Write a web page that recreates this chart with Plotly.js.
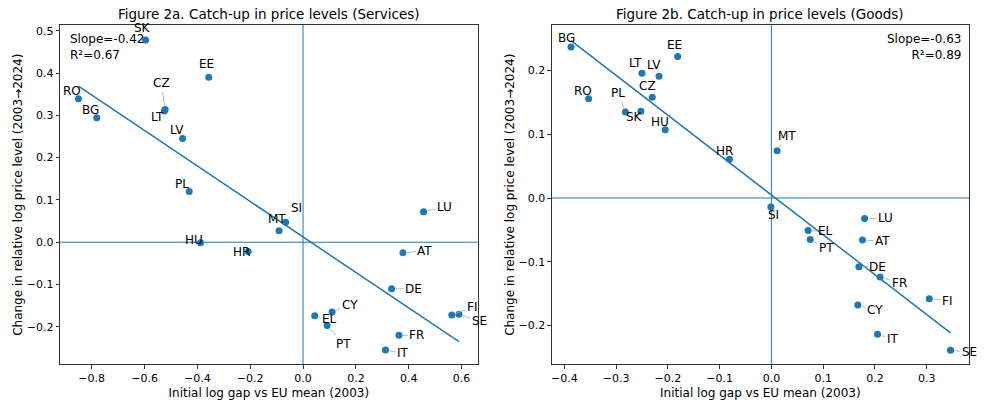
<!DOCTYPE html>
<html>
<head>
<meta charset="utf-8">
<script src="https://cdn.plot.ly/plotly-3.0.1.min.js"></script>
<style>
  html, body { margin: 0; padding: 0; background: #fff; }
  #chart { width: 987px; height: 407px; }
</style>
</head>
<body>
<div id="chart"></div>
<script>
// Figure 2a - services: initial log gap (2003) vs change in relative log price level
const countries2a = ["SK", "EE", "RO", "CZ", "LT", "BG", "LV", "PL", "SI", "MT", "HU",
  "HR", "LU", "AT", "DE", "CY", "EL", "PT", "FI", "SE", "FR", "IT"];
const gap2a = [-0.596, -0.357, -0.850, -0.522, -0.525, -0.781, -0.456, -0.431, -0.066, -0.091, -0.388,
  -0.208, 0.456, 0.378, 0.335, 0.110, 0.044, 0.091, 0.563, 0.590, 0.363, 0.312];
const change2a = [0.478, 0.390, 0.339, 0.314, 0.310, 0.294, 0.245, 0.120, 0.047, 0.027, -0.001,
  -0.022, 0.072, -0.025, -0.110, -0.165, -0.174, -0.197, -0.172, -0.170, -0.220, -0.255];
const stats2a = ["Slope=-0.42", "R²=0.67"];

// Figure 2b - goods
const countries2b = ["BG", "EE", "LT", "LV", "CZ", "RO", "PL", "SK", "HU", "HR", "MT",
  "SI", "LU", "EL", "AT", "PT", "DE", "FR", "FI", "CY", "IT", "SE"];
const gap2b = [-0.387, -0.181, -0.250, -0.217, -0.230, -0.353, -0.282, -0.252, -0.205, -0.081, 0.011,
  -0.001, 0.180, 0.071, 0.176, 0.075, 0.169, 0.210, 0.305, 0.167, 0.205, 0.346];
const change2b = [0.237, 0.222, 0.196, 0.191, 0.158, 0.156, 0.135, 0.136, 0.107, 0.061, 0.074,
  -0.014, -0.032, -0.051, -0.066, -0.065, -0.108, -0.124, -0.158, -0.168, -0.214, -0.239];
const stats2b = ["Slope=-0.63", "R²=0.89"];

// label placement (pixel offset of the text from its point, leader line or not)
const labelPos2a = {
  SK: [-3, -12, 0], EE: [-2, -13, 0], RO: [-6, -8, 0], CZ: [-4, -26, 1], LT: [-7, 6, 0],
  BG: [-6, -8, 0], LV: [-6, -9, 0], PL: [-7, -7, 0], SI: [11, -14, 1], MT: [-2, -12, 0],
  HU: [-7, -3, 0], HR: [-7, 0, 0], LU: [21, -5, 1], AT: [22, -2, 1], DE: [22, 0, 1],
  CY: [18, -7, 1], EL: [15, 3, 1], PT: [16, 18, 1], FI: [20, -8, 1], SE: [21, 7, 1],
  FR: [18, 0, 1], IT: [18, 3, 1]
};
const labelPos2b = {
  BG: [-5, -9, 0], EE: [-3, -12, 0], LT: [-6, -10, 0], LV: [-5, -11, 0], CZ: [-5, -11, 0],
  RO: [-6, -8, 0], PL: [-7, -19, 1], SK: [-6, 6, 0], HU: [-5, -8, 0], HR: [-5, -8, 0],
  MT: [10, -15, 1], SI: [3, 8, 0], LU: [21, 0, 1], EL: [17, 1, 1], AT: [20, 1, 1],
  PT: [16, 9, 1], DE: [19, 0, 1], FR: [19, 6, 1], FI: [18, 2, 1], CY: [17, 5, 1],
  IT: [15, 5, 1], SE: [19, 2, 1]
};

const BLUE = "#1f77b4";
const FONT = "DejaVu Sans, Liberation Sans, sans-serif";

// ordinary least squares fit, drawn between the min and max x
function fitLine(xs, ys) {
  const n = xs.length;
  const mx = xs.reduce((a, b) => a + b, 0) / n;
  const my = ys.reduce((a, b) => a + b, 0) / n;
  let sxy = 0, sxx = 0;
  for (let i = 0; i < n; i++) {
    sxy += (xs[i] - mx) * (ys[i] - my);
    sxx += (xs[i] - mx) * (xs[i] - mx);
  }
  const slope = sxy / sxx;
  const icpt = my - slope * mx;
  const lo = Math.min(...xs), hi = Math.max(...xs);
  return { x: [lo, hi], y: [icpt + slope * lo, icpt + slope * hi] };
}

function pointTrace(xs, ys, xa, ya) {
  return {
    x: xs, y: ys, xaxis: xa, yaxis: ya,
    type: "scatter", mode: "markers",
    marker: { size: 7, color: BLUE },
    hoverinfo: "skip", showlegend: false
  };
}

function lineTrace(xs, ys, xa, ya) {
  const f = fitLine(xs, ys);
  return {
    x: f.x, y: f.y, xaxis: xa, yaxis: ya,
    type: "scatter", mode: "lines",
    line: { color: BLUE, width: 1.5 },
    hoverinfo: "skip", showlegend: false
  };
}

function labelAnnotations(names, xs, ys, pos, xa, ya) {
  return names.map((name, i) => {
    const p = pos[name];
    const a = {
      x: xs[i], y: ys[i], xref: xa, yref: ya,
      text: name,
      font: { family: FONT, size: 12, color: "#000" }
    };
    if (p[2]) {
      Object.assign(a, {
        showarrow: true, ax: p[0], ay: p[1],
        arrowhead: 0, arrowwidth: 0.8, arrowcolor: "#aaaaaa", standoff: 4
      });
    } else {
      Object.assign(a, { showarrow: false, xshift: p[0], yshift: -p[1] });
    }
    return a;
  });
}

function axisStyle(extra) {
  return Object.assign({
    showgrid: false, zeroline: false,
    showline: true, mirror: true, linecolor: "#000", linewidth: 0.8,
    ticks: "outside", ticklen: 3.5, tickwidth: 0.8, tickcolor: "#000",
    tickfont: { family: FONT, size: 11, color: "#000" },
    tickformat: ".1f"
  }, extra);
}

const data = [
  lineTrace(gap2a, change2a, "x", "y"),
  pointTrace(gap2a, change2a, "x", "y"),
  lineTrace(gap2b, change2b, "x2", "y2"),
  pointTrace(gap2b, change2b, "x2", "y2")
];

const xTitle = { text: "Initial log gap vs EU mean (2003)", font: { family: FONT, size: 12, color: "#000" }, standoff: 4 };
const yTitle = { text: "Change in relative log price level (2003→2024)", font: { family: FONT, size: 12, color: "#000" }, standoff: 1 };

const dom1 = [60 / 987, 477.7 / 987];
const dom2 = [551.7 / 987, 969 / 987];
const domY = [1 - 364.5 / 407, 1 - 25 / 407];

const refLine = { color: BLUE, width: 1 };
const shapes = [
  { type: "line", xref: "x", yref: "y domain", x0: 0, x1: 0, y0: 0, y1: 1, line: refLine, layer: "below" },
  { type: "line", xref: "x domain", yref: "y", x0: 0, x1: 1, y0: 0, y1: 0, line: refLine, layer: "below" },
  { type: "line", xref: "x2", yref: "y2 domain", x0: 0, x1: 0, y0: 0, y1: 1, line: refLine, layer: "below" },
  { type: "line", xref: "x2 domain", yref: "y2", x0: 0, x1: 1, y0: 0, y1: 0, line: refLine, layer: "below" }
];

const titleFont = { family: FONT, size: 13.5, color: "#000" };
const statFont = { family: FONT, size: 12, color: "#000" };

const annotations = [
  { xref: "paper", yref: "paper", x: (dom1[0] + dom1[1]) / 2, y: 1 - 14 / 407,
    text: "Figure 2a. Catch-up in price levels (Services)", showarrow: false,
    xanchor: "center", yanchor: "middle", font: titleFont },
  { xref: "paper", yref: "paper", x: (dom2[0] + dom2[1]) / 2, y: 1 - 14 / 407,
    text: "Figure 2b. Catch-up in price levels (Goods)", showarrow: false,
    xanchor: "center", yanchor: "middle", font: titleFont },
  { xref: "x domain", yref: "y domain", x: 0.02, y: 0.985, xanchor: "left", yanchor: "top",
    align: "left", text: stats2a.join("<br>"), showarrow: false, font: statFont },
  { xref: "x2 domain", yref: "y2 domain", x: 0.985, y: 0.985, xanchor: "right", yanchor: "top",
    align: "right", text: stats2b.join("<br>"), showarrow: false, font: statFont }
].concat(
  labelAnnotations(countries2a, gap2a, change2a, labelPos2a, "x", "y"),
  labelAnnotations(countries2b, gap2b, change2b, labelPos2b, "x2", "y2")
);

const layout = {
  width: 987, height: 407,
  margin: { l: 0, r: 0, t: 0, b: 0 },
  paper_bgcolor: "#fff", plot_bgcolor: "#fff",
  font: { family: FONT, color: "#000" },
  xaxis: axisStyle({ domain: dom1, anchor: "y", range: [-0.92, 0.661], dtick: 0.2, tick0: 0, title: xTitle }),
  yaxis: axisStyle({ domain: domY, anchor: "x", range: [-0.289, 0.5135], dtick: 0.1, tick0: 0, title: yTitle }),
  xaxis2: axisStyle({ domain: dom2, anchor: "y2", range: [-0.4243, 0.3817], dtick: 0.1, tick0: 0, title: xTitle }),
  yaxis2: axisStyle({ domain: domY, anchor: "x2", range: [-0.2614, 0.2716], dtick: 0.1, tick0: 0, title: yTitle }),
  shapes: shapes,
  annotations: annotations
};

Plotly.newPlot("chart", data, layout, { displayModeBar: false, staticPlot: true });
</script>
</body>
</html>
